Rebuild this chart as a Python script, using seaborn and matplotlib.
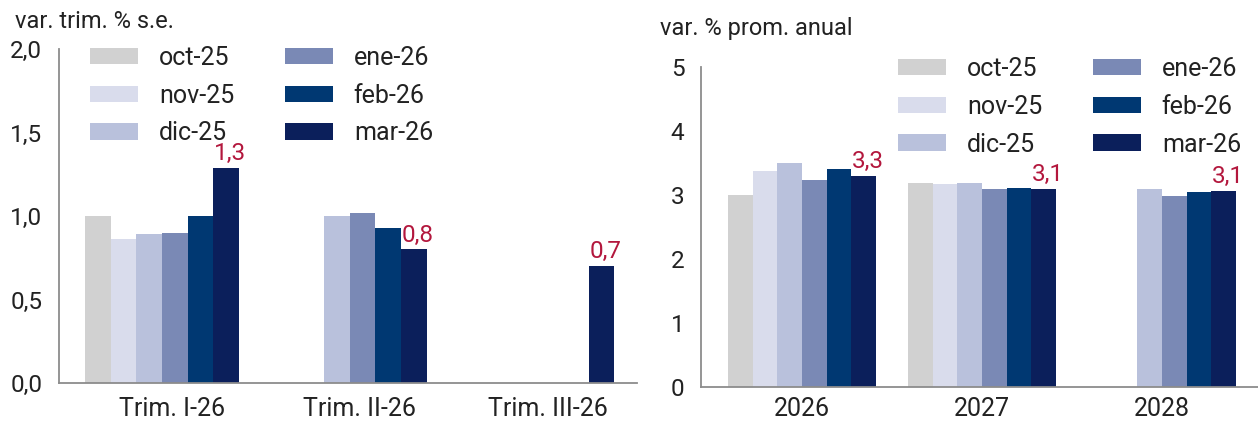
import numpy as np
import pandas as pd
import matplotlib
matplotlib.use("Agg")
import matplotlib.pyplot as plt
import matplotlib.transforms as mtransforms
from matplotlib.patches import Patch
import seaborn as sns

# Forecast vintages (series) and their colours
months = ["oct-25", "nov-25", "dic-25", "ene-26", "feb-26", "mar-26"]
colors = ["#d1d1d1", "#d9dcec", "#b9c1dc", "#7a89b5", "#003872", "#0b1f5b"]

# Left panel: quarterly growth, s.a.
quarters = ["Trim. I-26", "Trim. II-26", "Trim. III-26"]
q_oct = [1.00, np.nan, np.nan]
q_nov = [0.86, np.nan, np.nan]
q_dic = [0.89, 1.00, np.nan]
q_ene = [0.90, 1.02, np.nan]
q_feb = [1.00, 0.93, np.nan]
q_mar = [1.29, 0.80, 0.70]
q_ticks = [0.0, 0.5, 1.0, 1.5, 2.0]
q_ticklabels = ["0,0", "0,5", "1,0", "1,5", "2,0"]

# Right panel: annual average growth
years = ["2026", "2027", "2028"]
y_oct = [3.00, 3.19, np.nan]
y_nov = [3.37, 3.17, np.nan]
y_dic = [3.50, 3.19, 3.09]
y_ene = [3.24, 3.09, 2.99]
y_feb = [3.40, 3.11, 3.05]
y_mar = [3.30, 3.09, 3.06]
y_ticks = [0, 1, 2, 3, 4, 5]
y_ticklabels = ["0", "1", "2", "3", "4", "5"]

GRAY = "#8c8c8c"
TEXT = "#222222"
RED = "#b3173d"


def to_long(cats, series):
    rows = []
    for m, vals in zip(months, series):
        for c, v in zip(cats, vals):
            rows.append({"cat": c, "vintage": m, "value": v})
    return pd.DataFrame(rows)


sns.set_style("white")
plt.rcParams["font.family"] = ["Roboto", "DejaVu Sans"]

W, H = 1258, 421
fig = plt.figure(figsize=(W / 100, H / 100), dpi=100)

ax1 = fig.add_axes([59 / W, 1 - 383 / H, (637 - 59) / W, (383 - 49) / H])
ax2 = fig.add_axes([701 / W, 1 - 387 / H, (1258 - 701) / W, (387 - 67) / H])

df_q = to_long(quarters, [q_oct, q_nov, q_dic, q_ene, q_feb, q_mar])
df_y = to_long(years, [y_oct, y_nov, y_dic, y_ene, y_feb, y_mar])

palette = dict(zip(months, colors))


def draw(ax, df, cats, ticks, ticklabels, ylim, xlim, title, title_xy, tick_pad_x, xlab_shift):
    sns.barplot(data=df, x="cat", y="value", hue="vintage", order=cats,
                hue_order=months, palette=palette, width=0.82,
                errorbar=None, linewidth=0, saturation=1, ax=ax, legend=False)
    ax.set_xlim(*xlim)
    ax.set_ylim(*ylim)
    ax.set_xlabel("")
    ax.set_ylabel("")
    ax.set_yticks(ticks)
    ax.set_yticklabels(ticklabels)
    ax.set_xticks(range(len(cats)))
    ax.set_xticklabels(cats)
    ax.set_xticks([0.5, 1.5], minor=True)
    for s in ["top", "right"]:
        ax.spines[s].set_visible(False)
    for s in ["left", "bottom"]:
        ax.spines[s].set_color(GRAY)
        ax.spines[s].set_linewidth(1.3)
    ax.tick_params(axis="y", direction="in", length=8.5, width=1.2, color=GRAY,
                   labelsize=17.5, labelcolor=TEXT, pad=12)
    ax.tick_params(axis="x", which="major", length=0, labelsize=18,
                   labelcolor=TEXT, pad=tick_pad_x)
    ax.tick_params(axis="x", which="minor", direction="in", length=8.5,
                   width=1.2, color=GRAY)
    if xlab_shift:
        off = mtransforms.ScaledTranslation(xlab_shift / 100, 0, fig.dpi_scale_trans)
        for lab in ax.get_xticklabels():
            lab.set_transform(lab.get_transform() + off)
    fig.text(title_xy[0] / W, 1 - title_xy[1] / H, title, fontsize=17,
             color=TEXT, ha="left", va="center")

    # value labels on the latest vintage
    for bar in ax.containers[-1]:
        h = bar.get_height()
        if np.isnan(h):
            continue
        ax.annotate(f"{h:.1f}".replace(".", ","),
                    (bar.get_x() + bar.get_width() / 2, h),
                    xytext=(3, 2), textcoords="offset points",
                    ha="center", va="bottom", color=RED, fontsize=17.5)


draw(ax1, df_q, quarters, q_ticks, q_ticklabels, (0, 2.0), (-0.548, 2.53),
     "var. trim. % s.e.", (15, 21), 10, 10)
draw(ax2, df_y, years, y_ticks, y_ticklabels, (0, 5), (-0.561, 2.533),
     "var. % prom. anual", (660, 28), 7, 0)

handles = [Patch(facecolor=c, edgecolor="none", label=m) for m, c in zip(months, colors)]
for (x, y) in [(90, 46), (898, 57)]:
    fig.legend(handles=handles, ncol=2, loc="upper left",
               bbox_to_anchor=(x / W, 1 - y / H), bbox_transform=fig.transFigure,
               frameon=False, fontsize=18, handlelength=1.92, handleheight=0.64,
               handletextpad=0.85, columnspacing=2.0, labelspacing=0.55,
               borderpad=0, borderaxespad=0, labelcolor=TEXT)

fig.savefig("out.png", dpi=100)
